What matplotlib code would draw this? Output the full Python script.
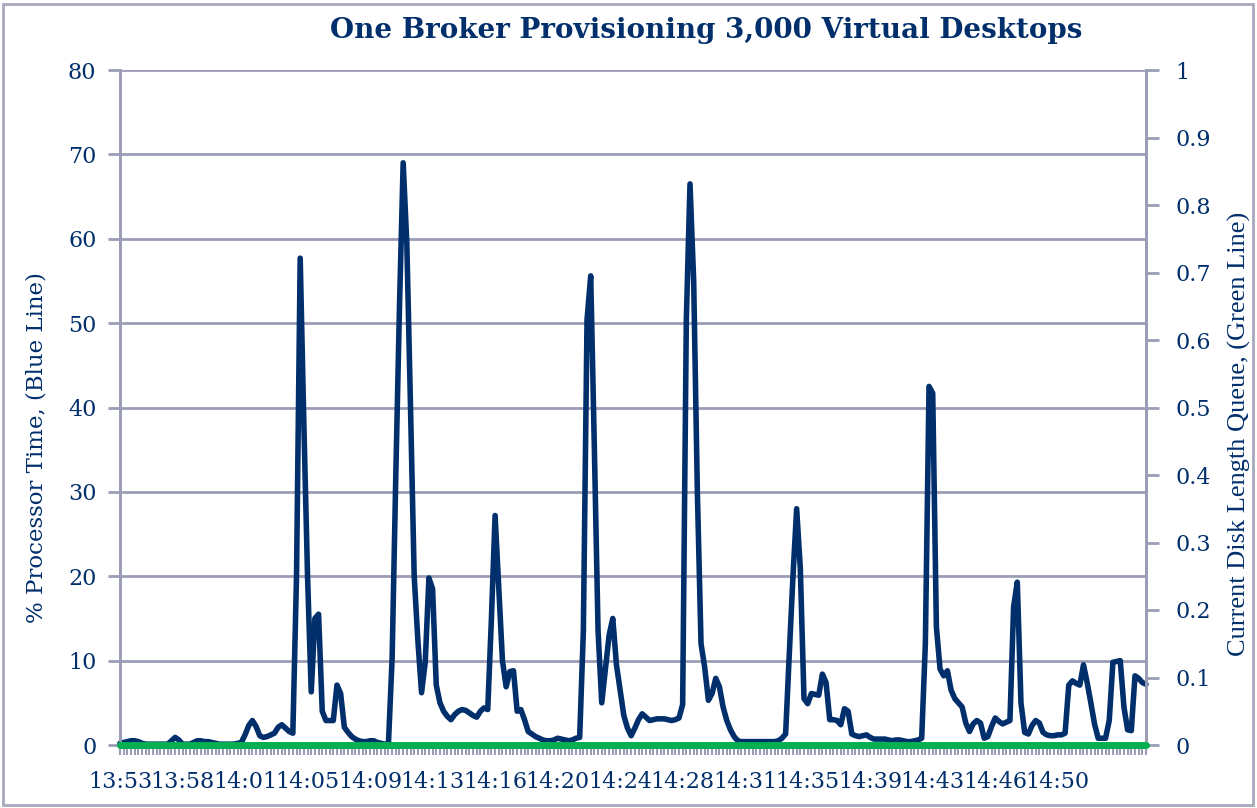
import matplotlib
matplotlib.use("Agg")
import matplotlib.pyplot as plt
from matplotlib.patches import Rectangle

# % processor time, one sample per category (280 samples)
cpu = [
    0.2, 0.3, 0.4, 0.5, 0.5, 0.4, 0.2, 0.1, 0.1, 0.1,
    0.1, 0.1, 0.1, 0.1, 0.5, 0.9, 0.6, 0.1, 0.1, 0.1,
    0.3, 0.5, 0.5, 0.4, 0.4, 0.3, 0.2, 0.1, 0.1, 0.1,
    0.1, 0.1, 0.2, 0.3, 1.2, 2.3, 2.9, 2.2, 1.1, 0.9,
    1.0, 1.2, 1.4, 2.1, 2.4, 2.0, 1.6, 1.4, 20.0, 57.7,
    38.0, 20.0, 6.3, 15.0, 15.5, 4.0, 2.9, 2.9, 2.9, 7.1,
    6.1, 2.1, 1.5, 1.0, 0.7, 0.5, 0.4, 0.4, 0.5, 0.5,
    0.3, 0.2, 0.1, 0.2, 10.3, 32.0, 52.0, 69.0, 59.4, 40.0,
    20.0, 12.4, 6.2, 9.8, 19.8, 18.5, 7.1, 5.0, 4.0, 3.4,
    3.0, 3.6, 4.0, 4.2, 4.1, 3.8, 3.5, 3.3, 4.0, 4.4,
    4.2, 15.0, 27.2, 18.7, 10.0, 6.9, 8.7, 8.8, 4.0, 4.2,
    3.0, 1.6, 1.3, 1.0, 0.8, 0.6, 0.5, 0.5, 0.6, 0.8,
    0.7, 0.6, 0.5, 0.6, 0.8, 0.9, 13.5, 50.4, 55.6, 35.0,
    13.5, 5.0, 9.0, 13.0, 15.0, 9.5, 6.5, 3.5, 2.0, 1.1,
    2.0, 3.0, 3.7, 3.3, 2.9, 3.0, 3.1, 3.1, 3.1, 3.0,
    2.9, 3.0, 3.2, 4.8, 50.4, 66.5, 55.0, 30.0, 12.0, 9.2,
    5.3, 6.1, 7.9, 6.9, 4.5, 2.9, 1.8, 1.0, 0.5, 0.4,
    0.4, 0.4, 0.4, 0.4, 0.4, 0.4, 0.4, 0.4, 0.4, 0.5,
    0.8, 1.3, 10.8, 20.0, 28.0, 20.9, 5.5, 4.9, 6.1, 6.0,
    5.9, 8.4, 7.4, 3.0, 3.0, 2.9, 2.4, 4.3, 4.0, 1.3,
    1.1, 1.0, 1.1, 1.2, 0.9, 0.7, 0.7, 0.7, 0.7, 0.6,
    0.5, 0.6, 0.6, 0.5, 0.4, 0.4, 0.5, 0.6, 0.8, 12.0,
    42.5, 41.7, 14.0, 9.0, 8.2, 8.8, 6.5, 5.5, 5.0, 4.5,
    2.6, 1.6, 2.5, 2.9, 2.6, 0.8, 1.0, 2.2, 3.2, 2.8,
    2.5, 2.7, 2.9, 16.4, 19.3, 5.0, 1.5, 1.3, 2.3, 2.9,
    2.6, 1.5, 1.2, 1.1, 1.1, 1.2, 1.2, 1.4, 7.1, 7.6,
    7.3, 7.1, 9.5, 7.4, 5.0, 2.5, 0.8, 0.8, 0.8, 2.9,
    9.8, 9.9, 10.0, 4.5, 1.8, 1.7, 8.2, 7.9, 7.4, 7.2,
]
# current disk queue length: flat zero throughout
disk = [0.0] * len(cpu)

time_labels = ["13:53", "13:58", "14:01", "14:05", "14:09", "14:13", "14:16", "14:20",
               "14:24", "14:28", "14:31", "14:35", "14:39", "14:43", "14:46", "14:50"]
label_step = 17
right_ticks = [0, 0.1, 0.2, 0.3, 0.4, 0.5, 0.6, 0.7, 0.8, 0.9, 1]
right_labels = ["0", "0.1", "0.2", "0.3", "0.4", "0.5", "0.6", "0.7", "0.8", "0.9", "1"]

navy = "#002F6C"
grid_col = "#9A9DB5"
green = "#00B050"

fig = plt.figure(figsize=(12.57, 8.08), dpi=100)
ax = fig.add_axes([120/1257, 1 - 745/808, (1146 - 120)/1257, (745 - 70)/808])
ax2 = ax.twinx()

x = list(range(len(cpu)))
ax.plot(x, cpu, color=navy, lw=4.0, solid_joinstyle="round", solid_capstyle="round",
        zorder=3, clip_on=False)
ax2.plot(x, disk, color=green, lw=5.0, solid_capstyle="round", zorder=3, clip_on=False)

ax.set_xlim(0, len(cpu) - 1)
ax.set_ylim(0, 80)
ax2.set_ylim(0, 1)

ax.set_yticks(range(0, 81, 10))
ax.yaxis.grid(True, color=grid_col, lw=2)
ax.set_axisbelow(True)

xt_labels = []
for i in x:
    if i % label_step == 0 and i // label_step < len(time_labels):
        xt_labels.append(time_labels[i // label_step])
    else:
        xt_labels.append("")
ax.set_xticks(x)
ax.set_xticklabels(xt_labels, fontsize=16, family="DejaVu Serif", color=navy)
ax.tick_params(axis="x", length=7, width=1.5, color=grid_col, pad=12)
ax.tick_params(axis="y", length=9, width=2, color=grid_col, labelsize=16, labelcolor=navy, pad=8)
for t in ax.get_yticklabels():
    t.set_family("DejaVu Serif")

ax2.set_yticks(right_ticks)
ax2.set_yticklabels(right_labels, fontsize=16, family="DejaVu Serif", color=navy)
ax2.tick_params(axis="y", length=9, width=2, color=grid_col, pad=12)

for a in (ax, ax2):
    for side in ("left", "right", "bottom"):
        a.spines[side].set_color(grid_col)
        a.spines[side].set_linewidth(2)
    a.spines["top"].set_visible(False)

ax.set_ylabel("% Processor Time, (Blue Line)", fontsize=16.5, family="DejaVu Serif",
              color=navy)
ax.yaxis.set_label_coords(-0.0702, 0.441)
ax2.set_ylabel("Current Disk Length Queue, (Green Line)", fontsize=19, family="Liberation Serif",
               color=navy)
ax2.yaxis.set_label_coords(1.08, 0.461)

fig.text(706/1257, 1 - 31/808, "One Broker Provisioning 3,000 Virtual Desktops",
         ha="center", va="center", fontsize=20, fontweight="bold",
         family="DejaVu Serif", color=navy)

fig.patches.append(Rectangle((3/1257, 3/808), 1 - 7/1257, 1 - 7/808, transform=fig.transFigure,
                             fill=False, edgecolor="#A7A9BC", lw=2))

fig.savefig("out.png", dpi=100)
